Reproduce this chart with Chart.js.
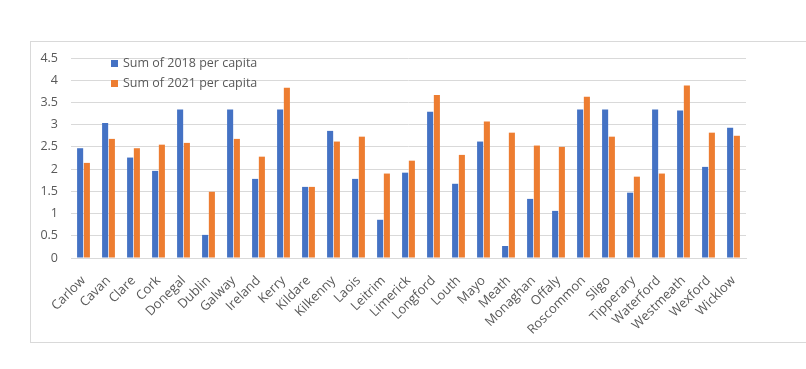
<!DOCTYPE html>
<html>
<head>
<meta charset="utf-8">
<script src="https://cdn.jsdelivr.net/npm/chart.js@4"></script>
<style>
  html, body { margin: 0; padding: 0; background: #fff; }
  #wrap { position: relative; width: 806px; height: 369px; }
  #frame { position: absolute; left: 30px; top: 41px; width: 790px; height: 302px; border: 1px solid #d9d9d9; box-sizing: border-box; }
  #chart { position: absolute; left: 0; top: 0; }
  .legend { position: absolute; left: 111px; font: 12.5px "Open Sans", sans-serif; color: #595959; white-space: nowrap; }
  .legend i { display: inline-block; width: 7px; height: 7px; margin-right: 5px; vertical-align: 0px; }
</style>
</head>
<body>
<div id="wrap">
  <div id="frame"></div>
  <canvas id="chart" width="806" height="369"></canvas>
  <div class="legend" style="top:54px"><i style="background:#4472c4"></i>Sum of 2018 per capita</div>
  <div class="legend" style="top:74px"><i style="background:#ed7d31"></i>Sum of 2021 per capita</div>
</div>
<script>
// Counties (plus the national figure) as plotted
const counties = ["Carlow", "Cavan", "Clare", "Cork", "Donegal", "Dublin", "Galway", "Ireland", "Kerry",
  "Kildare", "Kilkenny", "Laois", "Leitrim", "Limerick", "Longford", "Louth", "Mayo", "Meath",
  "Monaghan", "Offaly", "Roscommon", "Sligo", "Tipperary", "Waterford", "Westmeath", "Wexford", "Wicklow"];

const perCapita2018 = [2.47, 3.04, 2.26, 1.96, 3.34, 0.52, 3.34, 1.78, 3.34,
  1.60, 2.86, 1.78, 0.86, 1.92, 3.29, 1.67, 2.62, 0.27,
  1.33, 1.06, 3.34, 3.34, 1.47, 3.34, 3.32, 2.05, 2.93];

const perCapita2021 = [2.14, 2.68, 2.47, 2.55, 2.59, 1.49, 2.68, 2.28, 3.83,
  1.60, 2.62, 2.73, 1.90, 2.19, 3.67, 2.32, 3.07, 2.82,
  2.53, 2.50, 3.63, 2.73, 1.83, 1.90, 3.88, 2.82, 2.75];

const yTicks = [0, 0.5, 1, 1.5, 2, 2.5, 3, 3.5, 4, 4.5];

const textColor = "#595959";
const font = { family: "'Open Sans', sans-serif", size: 12.5 };
const xFont = { family: "'Open Sans', sans-serif", size: 13 };

new Chart(document.getElementById("chart"), {
  type: "bar",
  data: {
    labels: counties,
    datasets: [
      { label: "Sum of 2018 per capita", data: perCapita2018, backgroundColor: "#4472c4" },
      { label: "Sum of 2021 per capita", data: perCapita2021, backgroundColor: "#ed7d31" },
    ],
  },
  options: {
    responsive: false,
    animation: false,
    layout: { padding: { top: 58, right: 60, bottom: 0, left: 0 } },
    datasets: { bar: { categoryPercentage: 0.54, barPercentage: 0.9 } },
    plugins: { legend: { display: false }, tooltip: { enabled: false } },
    scales: {
      x: {
        grid: { display: false },
        border: { color: "#d9d9d9" },
        ticks: { color: textColor, font: xFont, minRotation: 45, maxRotation: 45, autoSkip: false, padding: 7 },
        afterFit: (s) => { s.height = 111; },
      },
      y: {
        min: 0,
        max: 4.5,
        afterBuildTicks: (s) => { s.ticks = yTicks.map(v => ({ value: v })); },
        grid: { color: "#d9d9d9", drawTicks: false },
        border: { display: false },
        ticks: { color: textColor, font, padding: 13, callback: (v) => String(v) },
        afterFit: (s) => { s.width = 71; },
      },
    },
  },
});
</script>
</body>
</html>
